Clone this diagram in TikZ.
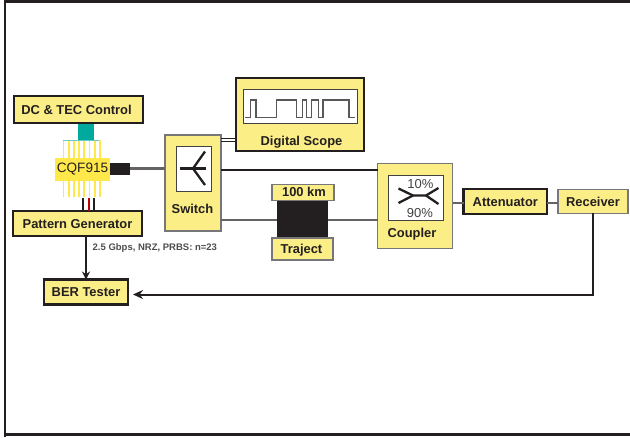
\documentclass[tikz,border=0pt]{standalone}
\usepackage{fontspec}
\setmainfont{Liberation Sans}
\usetikzlibrary{arrows.meta}
\definecolor{boxy}{HTML}{FCEE86}
\definecolor{ink}{HTML}{231F20}
\definecolor{greyl}{HTML}{77777A}
\definecolor{teal1}{HTML}{00A99D}
\definecolor{pinyellow}{HTML}{FFE94A}
\tikzset{
 x=1pt,y=-1pt,
 px/.style={minimum width=0pt,minimum height=0pt,inner sep=0pt,outer sep=0pt},
 thinbox/.style={px,draw=greyl,line width=1.1pt,fill=boxy},
 thickbox/.style={px,draw=ink,line width=2.7pt,fill=boxy},
 whitebox/.style={px,draw=ink!85,line width=0.9pt,fill=white},
 lab/.style={font=\bfseries\fontsize{12.9}{13}\selectfont,text=ink,text height=9.2pt,text depth=0pt},
 wire/.style={ink,line width=2pt},
 gwire/.style={ink!70,line width=2.8pt},
 sym/.style={ink,line width=2.3pt},
}
\begin{document}
\begin{tikzpicture}
\useasboundingbox (0,0) rectangle (630,437);
\draw[ink,line width=2.6pt] (5,437) -- (5,1.5) -- (630,1.5);
\draw[ink,line width=2.6pt] (5,434.5) -- (630,434.5);

% pins
\foreach \x in {63.5,68.7,...,100}{\draw[pinyellow,line width=1.7pt] (\x,140) -- (\x,197);}
\draw[teal1!60,line width=1pt] (63,140.5) -- (99,140.5);
% boxes
\node[px,fill=teal1,minimum width=16pt,minimum height=17pt] (tec) at (86,131.5) {};
\node[thickbox,minimum width=129pt,minimum height=27pt,lab] (dc) at (78.5,109.5) {DC \& TEC Control\kern4pt};
\node[px,fill=pinyellow,minimum width=55pt,minimum height=23pt,font=\fontsize{13.6}{14}\selectfont,text=ink] (cqf) at (82.5,169.5) {CQF915};
\node[px,fill=ink,minimum width=20pt,minimum height=12pt] (pig) at (120,168.5) {};
\node[thickbox,minimum width=129pt,minimum height=25pt,lab] (pat) at (77.5,223.5) {Pattern Generator};
\node[thickbox,minimum width=84pt,minimum height=25pt,lab] (ber) at (86,292) {BER Tester};
\coordinate (w1) at (83.3,198); \coordinate (w2) at (88.7,198); \coordinate (w3) at (94,198);
\draw[ink,line width=2pt] (w1) -- (w1 |- pat.north);
\draw[red!75!black,line width=2pt] (w2) -- (w2 |- pat.north);
\draw[ink,line width=2pt] (w3) -- (w3 |- pat.north);
\node[anchor=west,font=\bfseries\fontsize{9.5}{10}\selectfont,text=ink!80,inner sep=0pt] (rate) at (92.5,248) {2.5 Gbps, NRZ, PRBS: n=23};

\node[thinbox,minimum width=56pt,minimum height=96pt] (sw) at (193,183) {};
\node[whitebox,minimum width=35pt,minimum height=45pt] (swi) at (193.5,168.5) {};
\node[lab,anchor=center] (swl) at (192.5,209) {Switch};
\draw[sym] (180,168.5) -- (206,168.5);
\draw[sym] (193,168.5) -- (205,151.5);
\draw[sym] (193,168.5) -- (205,185);

\node[thickbox,minimum width=128pt,minimum height=73pt] (ds) at (300,114.5) {};
\node[whitebox,minimum width=113.5pt,minimum height=34pt] (dsi) at (300.3,106) {};
\node[lab] (dsl) at (301.5,140.5) {Digital Scope};
\draw[ink!75,line width=1.4pt] (245,117.5) -- (250.7,117.5) -- (250.7,100) -- (256,100) -- (256,117.5) -- (276.7,117.5) -- (276.7,100) -- (296.7,100) -- (296.7,117.5) -- (302.7,117.5) -- (302.7,100) -- (306.7,100) -- (306.7,117.5) -- (311.7,117.5) -- (311.7,100) -- (318.3,100) -- (318.3,117.5) -- (323,117.5) -- (323,100) -- (349,100) -- (349,117.5) -- (355,117.5);

\node[px,fill=ink,minimum width=51pt,minimum height=38pt] (fib) at (302.5,219) {};
\node[thinbox,minimum width=62pt,minimum height=15.5pt,lab] (km) at (303,192.3) {\kern2pt 100 km};
\node[thinbox,minimum width=61pt,minimum height=22pt,lab] (tr) at (302.5,249) {Traject\kern2pt};

\node[thinbox,minimum width=75pt,minimum height=84.5pt] (cp) at (415,206) {};
\node[whitebox,minimum width=54.5pt,minimum height=45pt] (cpi) at (415.7,197.5) {};
\node[lab] (cpl) at (412,232.5) {Coupler};
\node[font=\fontsize{13}{14}\selectfont,text=ink!85] (p10) at (420.5,184.5) {10\%};
\node[font=\fontsize{13}{14}\selectfont,text=ink!85] (p90) at (420,213.5) {90\%};
\draw[sym] (398.5,188.5) -- (413,195.5) -- (426,195.5) -- (438.5,188);
\draw[sym] (398.5,203) -- (413,195.5);
\draw[sym] (426,195.5) -- (438.5,204);

\node[thickbox,minimum width=83.5pt,minimum height=25pt,lab] (att) at (505.3,201.5) {Attenuator};
\node[thinbox,minimum width=70pt,minimum height=23.5pt,lab] (rx) at (593,201.5) {Receiver};

% connectors
\coordinate (bin) at ([yshift=-2.5pt]ber.east);
\draw[wire,-{Stealth[length=8pt,width=8pt]}] (pat.south -| ber.north) -- (ber.north);
\draw[wire,-{Stealth[length=10pt,width=9pt]},shorten >=5pt] (rx.south) |- (bin);
\draw[gwire] (pig.east) -- (pig.east -| sw.west);
\draw[ink,line width=1pt] (sw.east |- 0,138.8) -- (ds.west |- 0,138.8);
\draw[ink,line width=1pt] (sw.east |- 0,141.6) -- (ds.west |- 0,141.6);
\draw[wire] (sw.east |- 0,169.5) -- (cp.west |- 0,169.5);
\draw[gwire] (sw.east |- 0,220) -- (fib.west |- 0,220);
\draw[gwire] (fib.east |- 0,220) -- (cp.west |- 0,220);
\draw[gwire] (cp.east |- 0,203) -- (att.west |- 0,203);
\draw[gwire] (att.east |- 0,203) -- (rx.west |- 0,203);
\end{tikzpicture}
\end{document}
